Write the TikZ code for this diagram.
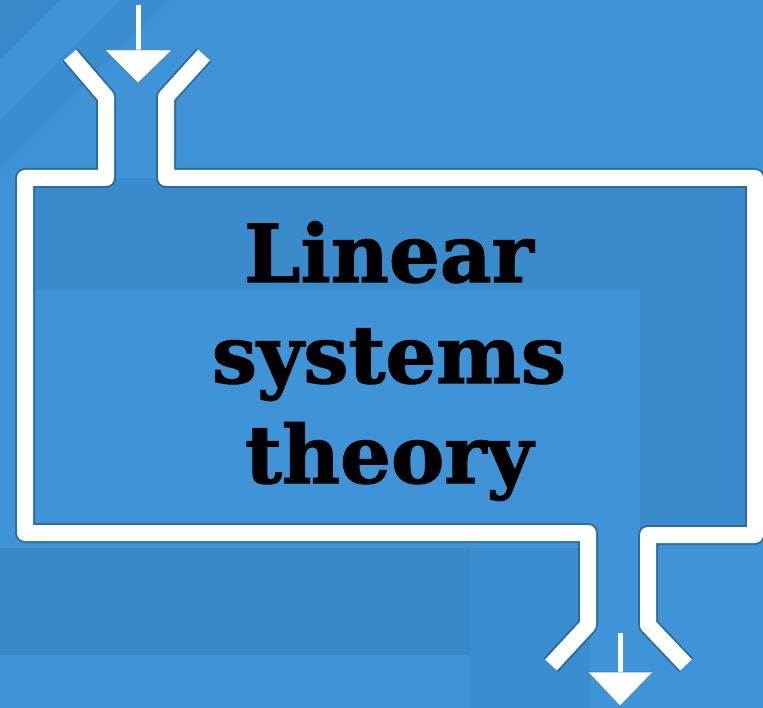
\documentclass[tikz,border=0pt]{standalone}
\usepackage{fontspec}
\setmainfont{DejaVu Serif}
\newfontfamily\titlefont[BoldFeatures={FakeBold=1.5}]{DejaVu Serif}
\definecolor{bgblue}{HTML}{3E94D7}
\definecolor{darkblue}{HTML}{3683C3}
\definecolor{shadowc}{HTML}{1F4F7A}
\tikzset{
  pipe/.style={line width=16pt, white, line join=round, line cap=butt},
  pipeshadow/.style={line width=20pt, shadowc, opacity=0.55, line join=round, line cap=butt},
  arrowhead/.style={fill=white, draw=shadowc, draw opacity=0.4, line width=1pt},
  shaft/.style={line width=5pt, white},
  title/.style={font=\titlefont\bfseries\fontsize{80}{80}\selectfont, text=black, anchor=base, inner sep=0pt}
}
\begin{document}
\begin{tikzpicture}[x=1pt,y=-1pt]
\useasboundingbox (0,0) rectangle (763,708);
% background
\fill[bgblue] (0,0) rectangle (763,708);
\fill[darkblue, opacity=0.6] (0,0) -- (60,0) -- (0,60) -- cycle;
\fill[darkblue, opacity=0.4] (0,120) -- (120,0) -- (170,0) -- (0,170) -- cycle;
\fill[darkblue, opacity=0.5] (25,178) rectangle (755,290);
\fill[darkblue, opacity=0.5] (640,290) rectangle (755,533);
\fill[darkblue, opacity=0.7] (0,548) rectangle (470,655);
\fill[darkblue, opacity=0.4] (470,548) rectangle (590,708);
% inlet / outlet coordinates
\coordinate (a1) at (70,55);   \coordinate (a2) at (106,97);
\coordinate (a3) at (106,178); \coordinate (a4) at (25,178);
\coordinate (a5) at (25,533);  \coordinate (a6) at (588,533);
\coordinate (a7) at (588,625); \coordinate (a8) at (551,665);
\coordinate (b1) at (204,55);  \coordinate (b2) at (166,97);
\coordinate (b3) at (166,178); \coordinate (b4) at (755,178);
\coordinate (b5) at (755,535); \coordinate (b6) at (648,535);
\coordinate (b7) at (648,625); \coordinate (b8) at (686,665);
% shadows
\draw[pipeshadow, shift={(2,2)}] (a1) -- (a2) -- (a3) -- (a4) -- (a5) -- (a6) -- (a7) -- (a8);
\draw[pipeshadow, shift={(2,2)}] (b1) -- (b2) -- (b3) -- (b4) -- (b5) -- (b6) -- (b7) -- (b8);
% pipes
\draw[pipe] (a1) -- (a2) -- (a3) -- (a4) -- (a5) -- (a6) -- (a7) -- (a8);
\draw[pipe] (b1) -- (b2) -- (b3) -- (b4) -- (b5) -- (b6) -- (b7) -- (b8);
% top arrow
\coordinate (t0) at (138,5);
\coordinate (t1) at (138,52);
\draw[shaft] (t0) -- (t1);
\path[arrowhead] (105,50) -- (172,50) -- (138,83) -- cycle;
% bottom arrow
\coordinate (u0) at (620,633);
\coordinate (u1) at (620,674);
\draw[shaft] (u0) -- (u1);
\path[arrowhead] (588,672) -- (653,672) -- (620,706) -- cycle;
% text
\node[title] (l1) at (389,282) {Linear};
\node[title] (l2) at (389,383) {systems};
\node[title] (l3) at (389,483) {theory};
\end{tikzpicture}
\end{document}
